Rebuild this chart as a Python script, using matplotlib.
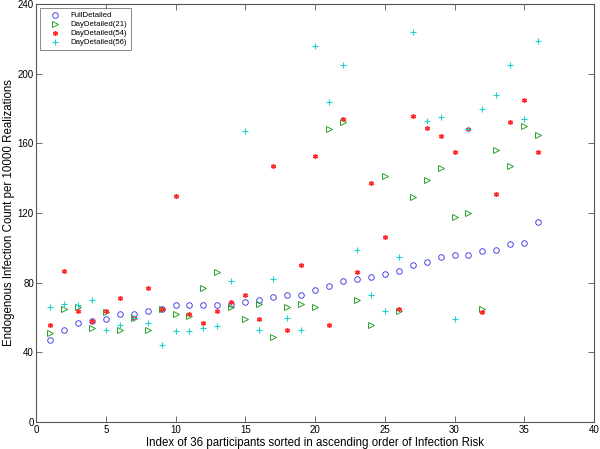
import matplotlib
matplotlib.use("Agg")
import matplotlib.pyplot as plt
import numpy as np

plt.rcParams["font.family"] = ["Liberation Sans", "DejaVu Sans"]

# data
idx = np.arange(1, 37)
full_detailed = [47, 53, 57, 58, 59, 62, 62, 64, 65, 67, 67, 67, 67, 68, 69, 70, 72, 73,
                 73, 76, 78, 81, 82, 83, 85, 87, 90, 92, 95, 96, 96, 98, 99, 102, 103, 115]
day_21 = [51, 65, 66, 54, 63, 53, 60, 53, 65, 62, 61, 77, 86, 66, 59, 68, 49, 66,
          68, 66, 168, 172, 70, 56, 141, 64, 129, 139, 146, 118, 120, 65, 156, 147, 170, 165]
day_54 = [56, 87, 64, 58, 64, 71, 60, 77, 65, 130, 62, 57, 64, 69, 73, 59, 147, 53,
          90, 153, 56, 174, 86, 137, 106, 65, 176, 169, 164, 155, 168, 63, 131, 172, 185, 155]
day_56 = [66, 68, 67, 70, 53, 56, 60, 57, 44, 52, 52, 54, 55, 81, 167, 53, 82, 60,
          53, 216, 184, 205, 99, 73, 64, 95, 224, 173, 175, 59, 168, 180, 188, 205, 174, 219]

fig = plt.figure(figsize=(6.0, 4.49), dpi=100)
ax = fig.add_axes([0.06, 0.06, 0.93, 0.931])

ax.plot(idx, full_detailed, "o", mfc="none", mec="#4848e8", ms=4, mew=0.7,
        ls="none", label="FullDetailed")
ax.plot(idx, day_21, ">", mfc="none", mec="#2aa02a", ms=4, mew=0.7,
        ls="none", label="DayDetailed(21)")
ax.plot(idx, day_54, marker=(6, 2, 0), color="#ff2a2a", ms=3.5, mew=1.0,
        ls="none", label="DayDetailed(54)")
ax.plot(idx, day_56, "+", color="#20d0d0", ms=4.5, mew=0.8,
        ls="none", label="DayDetailed(56)")

ax.set_xlim(0, 40)
ax.set_ylim(0, 240)
ax.set_xticks(range(0, 41, 5))
ax.set_yticks(range(0, 241, 40))
ax.tick_params(direction="in", top=True, right=True, labelsize=7, length=4,
               width=0.6, color="#555555")
ax.tick_params(axis="y", pad=1.5)
ax.tick_params(axis="x", pad=2)
for s in ax.spines.values():
    s.set_linewidth(0.8)
    s.set_color("#555555")

ax.set_xlabel("Index of 36 participants sorted in ascending order of Infection Risk",
              fontsize=8.3, labelpad=1.5)
ax.set_ylabel("Endogenous Infection Count per 10000 Realizations", fontsize=8.3, labelpad=2)

leg = ax.legend(loc="upper left", fontsize=5.6, frameon=True, fancybox=False,
                borderaxespad=0.5, handletextpad=0.4, labelspacing=0.2,
                borderpad=0.5, handlelength=3.0, numpoints=1)
leg.get_frame().set_edgecolor("#555555")
leg.get_frame().set_linewidth(0.6)

fig.savefig("out.png", dpi=100)
